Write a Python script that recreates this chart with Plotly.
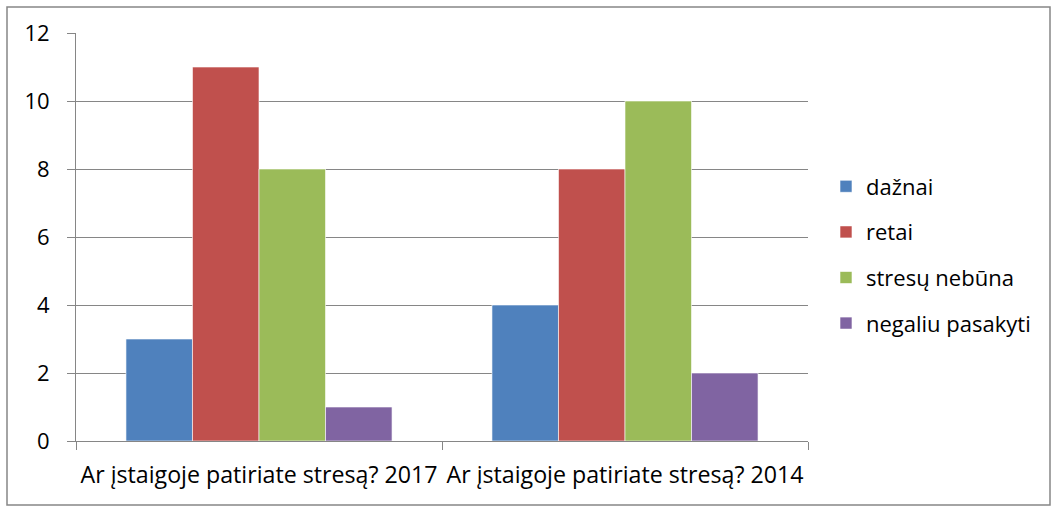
import plotly.graph_objects as go

categories = ["Ar įstaigoje patiriate stresą? 2017", "Ar įstaigoje patiriate stresą? 2014"]
series_names = ["dažnai", "retai", "stresų nebūna", "negaliu pasakyti"]
dazhnai = [3, 4]
retai = [11, 8]
stresu_nebuna = [8, 10]
negaliu = [1, 2]
colors = ["#4F81BD", "#C0504D", "#9BBB59", "#8064A2"]
values = [dazhnai, retai, stresu_nebuna, negaliu]

W, H = 1059, 511
L, R, T, B = 76, 808, 33, 441

fig = go.Figure()
for i, (name, vals) in enumerate(zip(series_names, values)):
    fig.add_trace(go.Bar(
        x=categories, y=vals, name=name,
        marker=dict(color=colors[i], line=dict(color="white", width=0.6)),
        legendgroup=str(i),
    ))

pw, ph = R - L, B - T
def px(x):
    return (x - L) / pw
def py(y):
    return (B - y) / ph

fig.add_shape(type="rect", xref="paper", yref="paper",
              x0=px(7), x1=px(1050), y0=py(505), y1=py(7),
              line=dict(color="#868686", width=1.5), fillcolor="rgba(0,0,0,0)", layer="below")

font = "Open Sans"
fig.update_layout(
    width=W, height=H,
    margin=dict(l=L, r=W - R, t=T, b=H - B, pad=0, autoexpand=False),
    paper_bgcolor="white", plot_bgcolor="white",
    barmode="group", bargap=0.273, bargroupgap=0,
    font=dict(family=font, size=21, color="black"),
    legend=dict(x=px(826), y=py(255), xanchor="left", yanchor="middle",
                traceorder="grouped", tracegroupgap=14,
                font=dict(size=22, color="black"), bgcolor="rgba(0,0,0,0)"),
    xaxis=dict(showline=True, linecolor="#868686", linewidth=1,
               ticks="outside", tickson="boundaries", ticklen=8, tickcolor="#868686",
               showgrid=False, tickfont=dict(size=23.2), ticklabelstandoff=13,
               tickangle=0, automargin=False),
    yaxis=dict(range=[0, 12], dtick=2, showline=True, linecolor="#868686", linewidth=1,
               ticks="outside", ticklen=8, tickcolor="#868686",
               showgrid=True, gridcolor="#868686", gridwidth=1, zeroline=False,
               tickfont=dict(size=22), ticklabelstandoff=13, automargin=False),
)

fig.write_html("out.html", config={"displayModeBar": False},
               post_script="document.body.style.margin='0';")
